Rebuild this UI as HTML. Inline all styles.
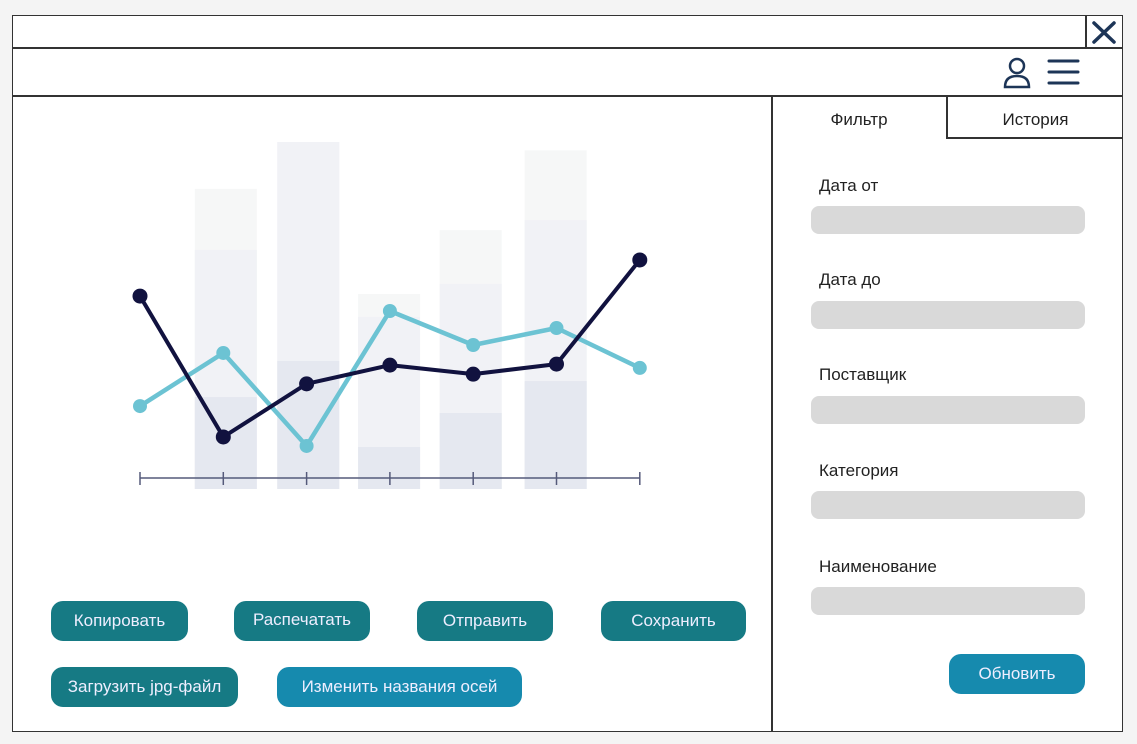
<!DOCTYPE html>
<html><head><meta charset="utf-8">
<style>
*{box-sizing:border-box;margin:0;padding:0}
body{width:1137px;height:744px;background:#f4f4f4;font-family:"Liberation Sans",sans-serif;position:relative;overflow:hidden}
.abs{position:absolute}
.frame{left:12px;top:15px;width:1111px;height:717px;background:#fff;border:1.5px solid #333}
.btn{position:absolute;height:40px;border-radius:12px;color:#eef;font-size:17px;display:flex;align-items:center;justify-content:center;background:#167a84}
.blue{background:#168aae}
.lbl{position:absolute;left:819px;font-size:17px;color:#222}
.inp{position:absolute;left:811px;width:274px;height:28px;background:#d9d9d9;border-radius:8px}
</style></head><body>
<div class="abs frame"></div>
<div class="abs" style="left:12px;top:47px;width:1111px;height:1.5px;background:#333"></div>
<div class="abs" style="left:12px;top:95px;width:1111px;height:1.5px;background:#333"></div>
<div class="abs" style="left:1085px;top:15px;width:1.5px;height:33px;background:#333"></div>
<svg class="abs" style="left:1086px;top:16px" width="36" height="32"><path d="M8 7L28 26M28 7L8 26" stroke="#1d3557" stroke-width="3.5" stroke-linecap="round"/></svg>
<svg class="abs" style="left:1000px;top:54px" width="36" height="36"><circle cx="17" cy="12" r="7" fill="none" stroke="#1d3557" stroke-width="2.5"/><path d="M5 33 Q5 22 17 22 Q29 22 29 33 Z" fill="none" stroke="#1d3557" stroke-width="2.5"/></svg>
<svg class="abs" style="left:1046px;top:56px" width="36" height="32"><path d="M3 5H32M3 16H32M3 27H32" stroke="#1d3557" stroke-width="3" stroke-linecap="round"/></svg>
<div class="abs" style="left:771px;top:96px;width:1.5px;height:636px;background:#333"></div>
<div class="abs" style="left:946px;top:96px;width:1.5px;height:43px;background:#333"></div>
<div class="abs" style="left:946px;top:137px;width:177px;height:1.5px;background:#333"></div>
<div class="abs" style="left:772px;top:110px;width:174px;text-align:center;font-size:17px;color:#222">Фильтр</div>
<div class="abs" style="left:948px;top:110px;width:175px;text-align:center;font-size:17px;color:#222">История</div>
<div class="lbl" style="top:176px">Дата от</div>
<div class="inp" style="top:206px"></div>
<div class="lbl" style="top:270px">Дата до</div>
<div class="inp" style="top:301px"></div>
<div class="lbl" style="top:365px">Поставщик</div>
<div class="inp" style="top:396px"></div>
<div class="lbl" style="top:461px">Категория</div>
<div class="inp" style="top:491px"></div>
<div class="lbl" style="top:557px">Наименование</div>
<div class="inp" style="top:587px"></div>
<div class="btn blue" style="left:949px;top:654px;width:136px">Обновить</div>
<div class="btn" style="left:51px;top:601px;width:137px">Копировать</div>
<div class="btn" style="left:234px;top:601px;width:136px;padding-bottom:3px">Распечатать</div>
<div class="btn" style="left:417px;top:601px;width:136px">Отправить</div>
<div class="btn" style="left:601px;top:601px;width:145px">Сохранить</div>
<div class="btn" style="left:51px;top:667px;width:187px">Загрузить jpg-файл</div>
<div class="btn blue" style="left:277px;top:667px;width:245px">Изменить названия осей</div>
<svg id="chart" class="abs" style="left:0;top:0" width="780" height="520"></svg>
<script>
const barTop=[86.5,100,56.2,74.6,97.6];
const barMid=[68.9,100,49.6,59.1,77.5];
const barLow=[26.5,36.9,12.1,21.9,31.1];
const darkSeries=[55.6,15.0,30.3,35.7,33.1,36.0,66.0];
const tealSeries=[23.9,39.2,12.4,51.3,41.5,46.4,34.9];
const points=[0,1,2,3,4,5,6];
const barCenters=[1.03,2.02,2.99,3.97,4.99];
const NS='http://www.w3.org/2000/svg';
const svg=document.getElementById('chart');
const xs=i=>140+i*83.3;
const ys=v=>489-v*3.47;
function mk(t,a){const e=document.createElementNS(NS,t);for(const k in a)e.setAttribute(k,a[k]);svg.appendChild(e);return e;}
barCenters.forEach((c,i)=>{
  const x=xs(c)-31,w=62;
  let e=mk('rect',{x:x,y:ys(barTop[i]),width:w,height:ys(0)-ys(barTop[i]),fill:'#f6f7f7'});
  
  e=mk('rect',{x:x,y:ys(barMid[i]),width:w,height:ys(0)-ys(barMid[i]),fill:'#f1f2f6'});
  
  e=mk('rect',{x:x,y:ys(barLow[i]),width:w,height:ys(0)-ys(barLow[i]),fill:'#e5e8f0'});
  
});
let ax=mk('line',{x1:xs(0),x2:xs(6),y1:478,y2:478,stroke:'#555a7a','stroke-width':1.5});

points.forEach(i=>{const t=mk('line',{x1:xs(i),x2:xs(i),y1:472,y2:485,stroke:'#555a7a','stroke-width':1.5});
});
function series(d,col,name,w,r){
  const p=mk('polyline',{points:d.map((v,i)=>xs(i)+','+ys(v)).join(' '),fill:'none',stroke:col,'stroke-width':w,'stroke-linejoin':'round'});
  
  d.forEach((v,i)=>{const c=mk('circle',{cx:xs(i),cy:ys(v),r:r,fill:col});
  });
}
series(tealSeries,'#6cc3d3','teal-series',4.5,7);
series(darkSeries,'#11123f','dark-series',4,7.5);
</script>
</body></html>
